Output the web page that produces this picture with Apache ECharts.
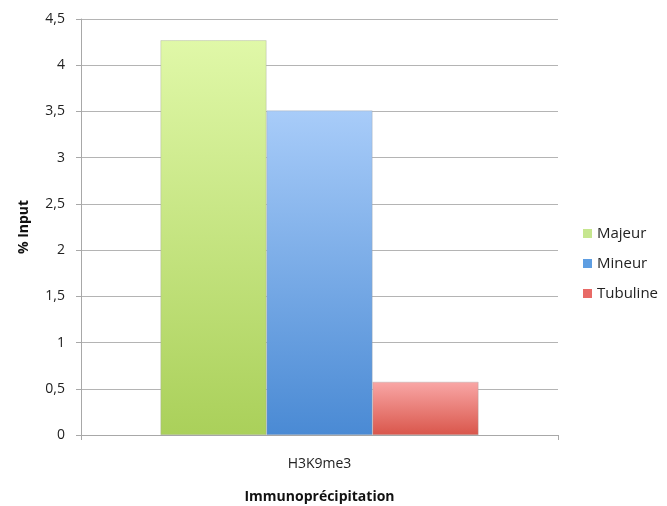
<!DOCTYPE html>
<html><head><meta charset="utf-8">
<script src="https://cdn.jsdelivr.net/npm/echarts@6/dist/echarts.min.js"></script>
<style>html,body{margin:0;padding:0;background:#fff}#c{width:667px;height:506px}</style>
</head><body><div id="c"></div>
<script>
var categories = ['H3K9me3'];
var seriesNames = ['Majeur', 'Mineur', 'Tubuline'];
var majeur = [4.27];
var mineur = [3.51];
var tubuline = [0.575];
var yTicks = {min: 0, max: 4.5, interval: 0.5};

var font = '"Open Sans", "Liberation Sans", sans-serif';
function grad(top, bottom) {
  return new echarts.graphic.LinearGradient(0, 0, 0, 1, [{offset: 0, color: top}, {offset: 1, color: bottom}]);
}
var legendColors = ['#c6e68f', '#5e9ee2', '#e86a66'];
var fills = [grad('#e0f8a8', '#aad05a'), grad('#a8ccf9', '#4a8ad4'), grad('#f9a7a6', '#d9564b')];
var values = [majeur, mineur, tubuline];

var chart = echarts.init(document.getElementById('c'), null, {renderer: 'canvas'});
chart.setOption({
  animation: false,
  grid: {left: 81, right: 109, top: 19, bottom: 71, containLabel: false, outerBoundsMode: 'none'},
  legend: {
    orient: 'vertical', left: 578, top: 221,
    itemWidth: 9, itemHeight: 9, itemGap: 15,
    icon: 'rect',
    textStyle: {fontFamily: font, fontSize: 15, color: '#222'},
    data: seriesNames.map(function (n, i) {
      return {name: n, itemStyle: {color: legendColors[i], borderWidth: 0}};
    })
  },
  xAxis: {
    type: 'category', data: categories,
    name: 'Immunoprécipitation', nameLocation: 'middle', nameGap: 55,
    nameTextStyle: {fontFamily: font, fontSize: 14, fontWeight: 'bold', color: '#111'},
    axisLine: {lineStyle: {color: '#a8a8a8', width: 1}},
    axisTick: {show: true, length: 5, lineStyle: {color: '#a8a8a8'}},
    axisLabel: {fontFamily: font, fontSize: 14, color: '#222', margin: 22}
  },
  yAxis: {
    type: 'value', min: yTicks.min, max: yTicks.max, interval: yTicks.interval,
    name: '% Input', nameLocation: 'middle', nameGap: 50, nameRotate: 90,
    nameTextStyle: {fontFamily: font, fontSize: 14, fontWeight: 'bold', color: '#111'},
    axisLine: {show: true, lineStyle: {color: '#a8a8a8', width: 1}},
    axisTick: {show: true, length: 5, lineStyle: {color: '#a8a8a8'}},
    splitLine: {lineStyle: {color: '#b4b4b4', width: 1}},
    axisLabel: {fontFamily: font, fontSize: 14, color: '#222', margin: 16,
      formatter: function (v) { return String(v).replace('.', ','); }}
  },
  series: seriesNames.map(function (n, i) {
    return {
      name: n, type: 'bar', data: values[i], barWidth: 106, barGap: '0%',
      itemStyle: {color: fills[i], borderColor: 'rgba(160,160,160,0.6)', borderWidth: 0.6}
    };
  })
});
</script></body></html>
